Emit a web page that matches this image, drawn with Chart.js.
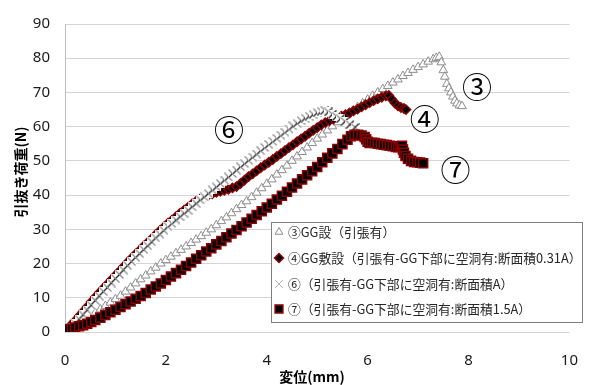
<!DOCTYPE html>
<html>
<head>
<meta charset="utf-8">
<script src="https://cdn.jsdelivr.net/npm/chart.js@4.4.1/dist/chart.umd.min.js"></script>
<style>
  html, body { margin: 0; padding: 0; background: #ffffff; }
  #c { display: block; }
</style>
</head>
<body>
<canvas id="c" width="590" height="385"></canvas>
<script>
// Series labels
const labels = [
  '③GG設（引張有）',
  '④GG敷設（引張有-GG下部に空洞有:断面積0.31A）',
  '⑥（引張有-GG下部に空洞有:断面積A）',
  '⑦（引張有-GG下部に空洞有:断面積1.5A）'
];

// ③ displacement (mm) / pull-out load (N)
const s3x = [0, 0.05, 0.1, 0.2, 0.3, 0.4, 0.5, 0.6, 0.7, 0.8, 0.9, 1.0, 1.1, 1.2, 1.3, 1.4, 1.5, 1.6, 1.7, 1.8, 1.9, 2.0,
  2.1, 2.2, 2.3, 2.4, 2.5, 2.6, 2.7, 2.8, 2.9, 3.0, 3.1, 3.2, 3.3, 3.4, 3.5, 3.6, 3.7, 3.8, 3.9, 4.0, 4.1, 4.2, 4.3,
  4.4, 4.5, 4.6, 4.7, 4.8, 4.9, 5.0, 5.1, 5.2, 5.3, 5.4, 5.5, 5.6, 5.7, 5.8, 5.9, 6.0, 6.1, 6.2, 6.3, 6.4, 6.5, 6.6,
  6.7, 6.8, 6.9, 7.0, 7.1, 7.2, 7.3, 7.36, 7.42, 7.46, 7.5, 7.53, 7.57, 7.61, 7.65, 7.69, 7.73, 7.77, 7.82, 7.87];
const s3y = [0, 0.4, 0.8, 1.7, 2.6, 3.6, 4.6, 5.6, 6.6, 7.6, 8.6, 9.6, 10.6, 11.8, 13.0, 14.2, 15.4, 16.5, 17.7, 18.8, 20.0, 21.0,
  22.0, 23.0, 24.0, 25.0, 26.0, 27.0, 28.0, 29.0, 30.0, 31.2, 32.4, 33.5, 34.7, 35.9, 37.1, 38.2, 39.4, 40.7, 42.0, 43.3, 44.6, 46.0, 47.3,
  48.6, 50.0, 51.3, 52.6, 53.9, 55.2, 56.5, 57.7, 58.9, 60.1, 61.3, 62.4, 63.5, 64.6, 65.7, 66.8, 67.9, 69.0, 70.0, 71.0, 71.9, 72.9, 73.8,
  74.8, 75.7, 76.6, 77.4, 78.2, 79.0, 79.7, 80.1, 80.4, 78.8, 76.5, 74.6, 72.5, 71.2, 70.0, 68.8, 67.6, 66.8, 66.2, 66.0];

// ④
const s4x = [0, 0.05, 0.12, 0.2, 0.28, 0.36, 0.44, 0.52, 0.6, 0.68, 0.76, 0.84, 0.92, 1.0, 1.08, 1.16, 1.24, 1.32, 1.4, 1.48,
  1.56, 1.64, 1.72, 1.8, 1.88, 1.96, 2.04, 2.12, 2.2, 2.28, 2.36, 2.44, 2.52, 2.6, 2.68, 2.76, 2.84, 2.92, 3.0, 3.08,
  3.16, 3.24, 3.32, 3.4, 3.48, 3.56, 3.64, 3.72, 3.8, 3.88, 3.96, 4.04, 4.12, 4.2, 4.28, 4.36, 4.44, 4.52, 4.6, 4.68,
  4.76, 4.84, 4.92, 5.0, 5.08, 5.16, 5.24, 5.32, 5.4, 5.48, 5.56, 5.64, 5.72, 5.8, 5.88, 5.96, 6.04, 6.12, 6.2, 6.28,
  6.36, 6.42, 6.48, 6.54, 6.6, 6.66, 6.72, 6.76];
const s4y = [0, 0.9, 2.1, 3.3, 4.7, 6.0, 7.4, 8.8, 10.2, 11.5, 12.8, 14.0, 15.3, 16.6, 17.8, 19.1, 20.4, 21.6, 22.8, 23.9,
  25.1, 26.2, 27.3, 28.5, 29.6, 30.7, 31.8, 32.7, 33.7, 34.7, 35.6, 36.5, 37.4, 38.2, 38.9, 39.5, 40.0, 40.4, 40.8, 41.1,
  41.4, 41.7, 42.1, 42.5, 43.4, 44.4, 45.4, 46.2, 47.1, 48.0, 48.8, 49.6, 50.4, 51.3, 52.1, 53.0, 53.9, 54.7, 55.6, 56.4,
  57.2, 58.1, 58.9, 59.7, 60.5, 61.2, 61.7, 62.2, 62.7, 63.1, 63.5, 64.0, 64.6, 65.1, 65.8, 66.4, 67.0, 67.6, 68.1, 68.6,
  69.0, 69.1, 68.0, 66.9, 66.1, 65.6, 65.3, 65.0];

// ⑥
const s6x = [0, 0.05, 0.12, 0.2, 0.28, 0.36, 0.44, 0.52, 0.6, 0.68, 0.76, 0.84, 0.92, 1.0, 1.08, 1.16, 1.24, 1.32, 1.4, 1.48,
  1.56, 1.64, 1.72, 1.8, 1.88, 1.96, 2.04, 2.12, 2.2, 2.28, 2.36, 2.44, 2.52, 2.6, 2.68, 2.76, 2.84, 2.92, 3.0, 3.08,
  3.16, 3.24, 3.32, 3.4, 3.48, 3.56, 3.64, 3.72, 3.8, 3.88, 3.96, 4.04, 4.12, 4.2, 4.28, 4.36, 4.44, 4.52, 4.6, 4.68,
  4.76, 4.84, 4.92, 5.0, 5.08, 5.15, 5.22, 5.3, 5.38, 5.46, 5.55, 5.65, 5.75];
const s6y = [0, 0.6, 1.3, 2.4, 3.7, 5.0, 6.4, 7.8, 9.2, 10.5, 11.8, 13.0, 14.3, 15.6, 16.8, 18.1, 19.4, 20.6, 21.8, 22.9,
  24.1, 25.2, 26.3, 27.5, 28.6, 29.7, 30.8, 31.7, 32.7, 33.7, 34.7, 35.6, 36.6, 37.6, 38.6, 39.5, 40.5, 41.5, 42.4, 43.4,
  44.4, 45.3, 46.3, 47.3, 48.3, 49.2, 50.2, 51.1, 52.0, 53.0, 53.9, 54.8, 55.7, 56.6, 57.5, 58.4, 59.3, 60.2, 61.0, 61.8,
  62.5, 63.1, 63.6, 64.1, 64.5, 64.8, 64.3, 63.6, 63.0, 62.3, 61.5, 60.6, 59.8];

// ⑦
const s7x = [0, 0.03, 0.08, 0.14, 0.2, 0.28, 0.36, 0.44, 0.52, 0.6, 0.7, 0.8, 0.9, 1.0, 1.1, 1.2, 1.3, 1.4, 1.5, 1.6,
  1.7, 1.8, 1.9, 2.0, 2.1, 2.2, 2.3, 2.4, 2.5, 2.6, 2.7, 2.8, 2.9, 3.0, 3.1, 3.2, 3.3, 3.4, 3.5, 3.6, 3.7, 3.8, 3.9,
  4.0, 4.1, 4.2, 4.3, 4.4, 4.5, 4.6, 4.7, 4.8, 4.9, 5.0, 5.1, 5.2, 5.3, 5.4, 5.5, 5.6, 5.67, 5.74, 5.81, 5.88, 5.94,
  5.97, 6.0, 6.04, 6.09, 6.14, 6.2, 6.26, 6.32, 6.38, 6.44, 6.5, 6.56, 6.61, 6.65, 6.68, 6.7, 6.72, 6.75, 6.8, 6.86,
  6.92, 6.98, 7.04, 7.1];
const s7y = [0.3, 0.5, 0.8, 1.0, 1.3, 1.7, 2.0, 2.4, 2.9, 3.5, 4.2, 5.0, 5.8, 6.5, 7.3, 8.1, 8.9, 9.7, 10.5, 11.4,
  12.4, 13.3, 14.2, 15.2, 16.2, 17.2, 18.2, 19.3, 20.3, 21.4, 22.4, 23.5, 24.5, 25.6, 26.6, 27.7, 28.8, 29.8, 30.9, 32.0, 33.1, 34.2, 35.3,
  36.4, 37.5, 38.7, 39.8, 41.0, 42.2, 43.4, 44.6, 45.8, 47.0, 48.2, 49.6, 50.9, 52.2, 53.5, 54.9, 56.2, 57.2, 57.6, 57.6, 57.4, 57.0,
  56.3, 55.6, 55.2, 55.3, 55.2, 55.0, 54.9, 54.7, 54.6, 54.4, 54.3, 54.1, 54.0, 54.2, 54.4, 53.3, 52.4, 51.4, 50.6, 50.0,
  49.7, 49.6, 49.5, 49.3];

// Axis ticks
const xTicks = [0, 2, 4, 6, 8, 10];
const yTicks = [0, 10, 20, 30, 40, 50, 60, 70, 80, 90];

// Curve tags placed beside each curve (value coordinates)
const tagText = ['③', '④', '⑥', '⑦'];
const tagX = [8.17, 7.13, 3.25, 7.74];
const tagY = [70.8, 61.4, 58.0, 46.4];

const pts = (xs, ys) => xs.map((x, i) => ({ x: x, y: ys[i] }));
const DARK_RED = '#8b0000';

// "x" marker on a white square (spreadsheet-style filled cross marker)
function crossSprite(size) {
  const c = document.createElement('canvas');
  c.width = size; c.height = size;
  const g = c.getContext('2d');
  g.fillStyle = '#ffffff';
  g.fillRect(0, 0, size, size);
  g.lineWidth = 1.2;
  g.strokeStyle = '#8f8f8f';
  g.beginPath(); g.moveTo(0.5, 0.5); g.lineTo(size - 0.5, size - 0.5); g.stroke();
  g.strokeStyle = '#1f1f1f';
  g.beginPath(); g.moveTo(0.5, size - 0.5); g.lineTo(size - 0.5, 0.5); g.stroke();
  return c;
}

const datasets = [
  { label: labels[0], data: pts(s3x, s3y), order: 4, showLine: false,
    pointStyle: 'triangle', pointRadius: 5, pointBackgroundColor: '#ffffff',
    pointBorderColor: '#8c8c8c', pointBorderWidth: 1 },
  { label: labels[1], data: pts(s4x, s4y), order: 3, showLine: false,
    pointStyle: 'rectRot', pointRadius: 4.6, pointBackgroundColor: '#000000',
    pointBorderColor: DARK_RED, pointBorderWidth: 1.5 },
  { label: labels[2], data: pts(s6x, s6y), order: 2, showLine: false,
    pointStyle: crossSprite(9), pointRadius: 4.5,
    pointBackgroundColor: '#ffffff', pointBorderColor: '#b0b0b0', pointBorderWidth: 1 },
  { label: labels[3], data: pts(s7x, s7y), order: 1, showLine: false,
    pointStyle: 'rect', pointRadius: 6.4, pointBackgroundColor: '#000000',
    pointBorderColor: DARK_RED, pointBorderWidth: 1.5 }
];

const TICK_FONT = { family: '"Noto Sans", "DejaVu Sans", sans-serif', size: 15 };
const JP = '"Noto Sans CJK JP", "Noto Sans", sans-serif';

function drawLegendMarker(ctx, ds, r, x, y) {
  ctx.save();
  ctx.fillStyle = ds.pointBackgroundColor;
  ctx.strokeStyle = ds.pointBorderColor;
  ctx.lineWidth = ds.pointBorderWidth;
  const style = typeof ds.pointStyle === 'string' ? ds.pointStyle : 'crossRot';
  Chart.helpers.drawPoint(ctx, { pointStyle: style, radius: r, borderWidth: ds.pointBorderWidth, rotation: 0 }, x, y);
  ctx.restore();
}

// Axis titles, curve tags and the boxed legend
const decorations = {
  id: 'decorations',
  afterDatasetsDraw(chart) {
    const ctx = chart.ctx;
    const xs = chart.scales.x, ys = chart.scales.y;

    ctx.save();
    ctx.fillStyle = '#000000';
    ctx.font = 'bold 14px ' + JP;
    ctx.textAlign = 'center';
    ctx.textBaseline = 'middle';
    ctx.fillText('変位(mm)', 312, 377);
    ctx.translate(21, 172);
    ctx.rotate(-Math.PI / 2);
    ctx.fillText('引抜き荷重(N)', 0, 0);
    ctx.restore();

    ctx.save();
    ctx.fillStyle = '#000000';
    ctx.font = '30px "DejaVu Serif", "Noto Sans CJK JP", serif';
    ctx.textAlign = 'center';
    ctx.textBaseline = 'middle';
    tagText.forEach((t, i) => {
      ctx.fillText(t, xs.getPixelForValue(tagX[i]), ys.getPixelForValue(tagY[i]));
    });
    ctx.restore();

    // legend box
    const bx = 271.5, by = 222.5, bw = 311, bh = 100;
    ctx.save();
    ctx.fillStyle = '#ffffff';
    ctx.fillRect(bx, by, bw, bh);
    ctx.strokeStyle = '#7f7f7f';
    ctx.lineWidth = 1;
    ctx.strokeRect(bx, by, bw, bh);
    const rowY = [232, 258, 284, 309];
    const sizes = [4.5, 4.5, 5.5, 5.5];
    chart.data.datasets.forEach((ds, i) => {
      drawLegendMarker(ctx, ds, sizes[i], 279, rowY[i]);
      ctx.font = '12.8px ' + JP;
      ctx.textAlign = 'left';
      ctx.textBaseline = 'middle';
      ctx.fillStyle = '#262626';
      ctx.fillText(ds.label, 288, rowY[i] + 0.5);
    });
    ctx.restore();
  }
};

new Chart(document.getElementById('c'), {
  type: 'scatter',
  data: { datasets: datasets },
  plugins: [decorations],
  options: {
    responsive: false,
    animation: false,
    layout: { padding: { top: 14, right: 17, left: 0, bottom: 0 } },
    plugins: { legend: { display: false }, tooltip: { enabled: false } },
    scales: {
      x: {
        type: 'linear', min: 0, max: 10,
        afterBuildTicks: (s) => { s.ticks = xTicks.map(v => ({ value: v })); },
        afterFit: (s) => { s.height = 53; },
        grid: { display: false },
        border: { display: false },
        ticks: { font: TICK_FONT, color: '#1a1a1a', padding: 12, maxRotation: 0 }
      },
      y: {
        type: 'linear', min: 0, max: 90,
        afterBuildTicks: (s) => { s.ticks = yTicks.map(v => ({ value: v })); },
        afterFit: (s) => { s.width = 65; },
        grid: { color: '#d4d4d4', lineWidth: 1, drawTicks: false },
        border: { display: true, color: '#bfbfbf' },
        ticks: { font: TICK_FONT, color: '#1a1a1a', padding: 15 }
      }
    }
  }
});
</script>
</body>
</html>
